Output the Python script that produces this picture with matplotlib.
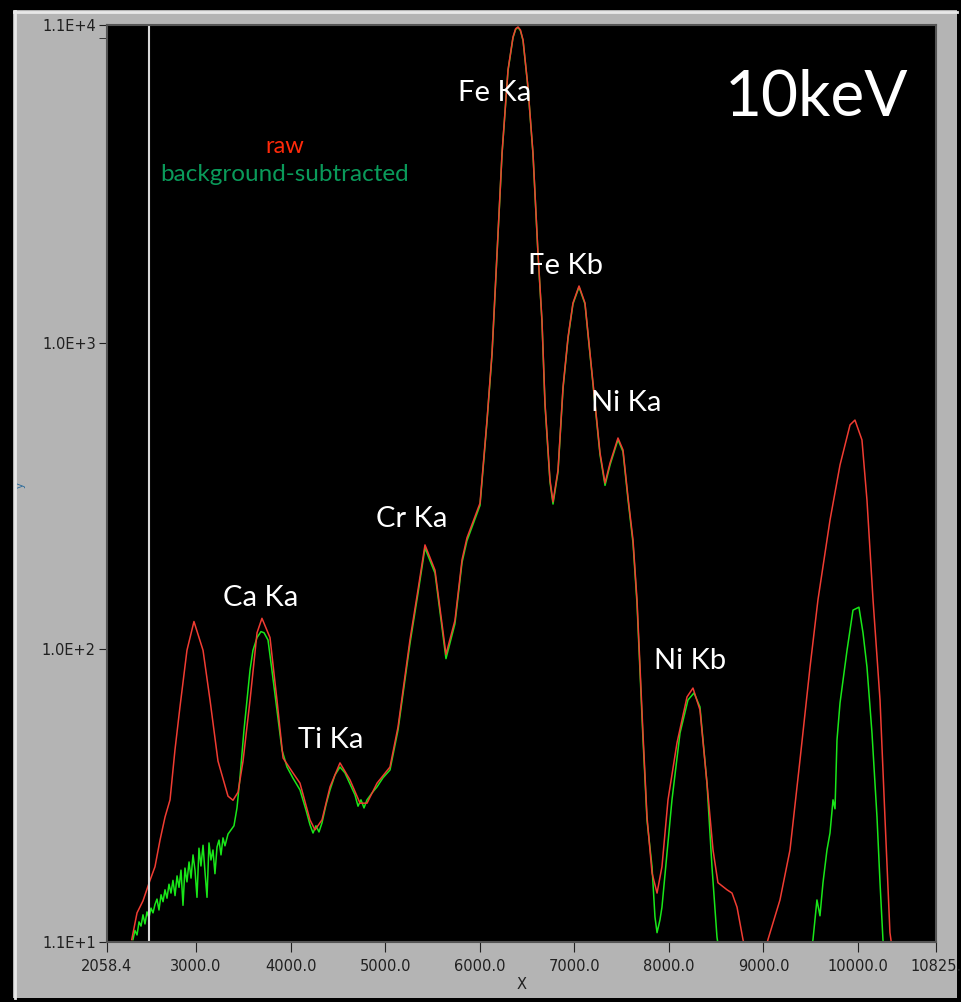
import matplotlib
matplotlib.use("Agg")
import matplotlib.pyplot as plt
from matplotlib.patches import Rectangle
from matplotlib.lines import Line2D
from matplotlib.ticker import FixedLocator, NullFormatter

# raw spectrum (channel, counts)
raw_x = [2320, 2376, 2439, 2513, 2566, 2619, 2672, 2725, 2777, 2830, 2904, 2978,
         3074, 3148, 3232, 3338, 3391, 3444, 3497, 3571, 3645, 3697, 3782, 3856,
         3920, 4025, 4099, 4205, 4258, 4332, 4417, 4522, 4628, 4734, 4808, 4914,
         5051, 5136, 5262, 5347, 5421, 5527, 5643, 5738, 5813, 5865, 6003, 6077,
         6130, 6183, 6236, 6299, 6352, 6380, 6405, 6430, 6458, 6510, 6563, 6616,
         6658, 6690, 6743, 6775, 6828, 6881, 6934, 6986, 7050, 7113, 7166, 7219,
         7272, 7325, 7378, 7462, 7515, 7568, 7621, 7663, 7695, 7726, 7769, 7822,
         7875, 7927, 7991, 8086, 8192, 8255, 8329, 8403, 8467, 8519, 8615, 8668,
         8721, 8784, 8858, 8964, 9048, 9175, 9281, 9387, 9493, 9577, 9704, 9810,
         9916, 9968, 10042, 10095, 10159, 10233, 10285, 10338, 10391]
raw_y = [11.2, 13.7, 15.0, 17.5, 19.4, 23.7, 28.2, 32.1, 46.7, 64.6, 99, 123,
         99, 68, 43, 33, 32, 34, 43, 68, 113, 126, 109, 68,
         44, 39.3, 36.4, 27.6, 25.6, 27.6, 35.4, 42.4, 37.3, 31.3, 31.3, 36.4,
         41.1, 55.6, 107, 156, 219, 181, 96, 124, 196, 231, 300, 561,
         929, 1975, 4195, 7838, 10050, 10700, 10835, 10600, 9824, 6894, 4195, 1975,
         1192, 638, 357, 303, 385, 720, 1049, 1355, 1540, 1355, 929, 638,
         438, 349, 406, 490, 448, 314, 227, 145, 87.3, 53.1, 28.2, 18.5,
         15.9, 19.4, 32.1, 49.3, 69.7, 74.5, 63.2, 36.4, 22, 17.2, 16.3, 15.9,
         14.3, 11.2, 9, 9, 11.2, 15.1, 22, 43.4, 87.3, 145, 264, 400,
         541, 561, 483, 307, 145, 68.1, 28.2, 11.8, 9]

# background-subtracted spectrum
sub_x = [2333, 2354, 2376, 2397, 2418, 2439, 2460, 2481, 2502, 2524, 2545, 2566,
         2587, 2608, 2630, 2651, 2672, 2693, 2714, 2735, 2756, 2778, 2799, 2820,
         2841, 2862, 2883, 2904, 2926, 2947, 2968, 2989, 3010, 3031, 3052, 3074,
         3095, 3116, 3137, 3158, 3179, 3200, 3222, 3243, 3264, 3285, 3306, 3338,
         3370, 3401, 3433,
         3465, 3507, 3539, 3571, 3602, 3645, 3687, 3719, 3761, 3803, 3856, 3909,
         3962, 4025, 4099, 4163, 4205, 4237, 4268, 4300, 4332, 4374, 4417, 4469,
         4522, 4575, 4628, 4681, 4713, 4744, 4776, 4808, 4861, 4914, 4977, 5051,
         5136, 5262, 5347, 5421, 5527, 5643, 5738, 5813, 5865, 6003, 6077, 6130,
         6183, 6236, 6299, 6352, 6380, 6405, 6430, 6458, 6510, 6563, 6616, 6658,
         6690, 6743, 6775, 6828, 6881, 6934, 6986, 7050, 7113, 7166, 7219, 7272,
         7325, 7378, 7462, 7515, 7568, 7621, 7663, 7695, 7726, 7769, 7822, 7853,
         7875, 7906, 7927, 7980, 8033, 8118, 8202, 8266, 8329, 8403, 8456, 8509,
         8560, 9470, 9524, 9566, 9598, 9630, 9672, 9704, 9736, 9757, 9778, 9810,
         9884, 9947, 10010, 10053, 10095, 10148, 10201, 10233, 10264, 10296]
sub_y = [11.2, 12.0, 11.6, 12.8, 12.4, 13.5, 12.6, 13.8, 13.2, 14.2, 13.7, 14.6,
         15.2, 14.0, 15.7, 14.9, 16.3, 15.3, 17.0, 15.9, 17.5, 15.6, 18.1, 16.6,
         18.9, 14.5, 19.2, 17.3, 20.1, 17.8, 21.2, 18.9, 15.4, 22.3, 19.5, 22.8,
         18.6, 15.4, 23.2, 20.4, 22.0, 18.4, 22.5, 23.7, 21.2, 24.1, 22.7, 24.8,
         25.6, 26.4, 30.2,
         38.1, 54.3, 68.1, 85.4, 99, 109, 114, 113, 107, 85, 63, 46.7,
         41.1, 37.8, 34.6, 29.7, 26.6, 25.0, 26.4, 25.2, 27.0, 30.9, 34.6, 38.7,
         41.1, 39.3, 36.2, 33.3, 30.6, 32.1, 30.2, 32.1, 33.8, 35.4, 37.9, 40.2,
         54.3, 104, 152, 214, 177, 93, 121, 192, 226, 295, 555, 920,
         1960, 4170, 7800, 10000, 10650, 10800, 10550, 9780, 6860, 4170, 1960, 1180,
         630, 352, 298, 380, 712, 1040, 1345, 1530, 1345, 920, 630, 432,
         343, 400, 484, 442, 308, 222, 141, 84, 51, 27.5, 19.4, 13.3,
         11.8, 13.0, 14.3, 21.5, 32.1, 53.1, 68.1, 71.8, 64.6, 36.4, 19.4, 11.4,
         9, 9, 11.2, 15.1, 13.4, 17.2, 22, 25, 32.1, 30, 50.4, 66.6,
         99, 134, 137, 113, 87.3, 53.1, 28.2, 17.2, 11.2, 9]

cursor_x = 2502

peak_names = ["Fe Ka", "Fe Kb", "Ni Ka", "Cr Ka", "Ca Ka", "Ti Ka", "Ni Kb"]
peak_lx = [6161, 6912, 7547, 5284, 3687, 4427, 8224]
peak_ly = [6590, 1791, 638, 266, 147, 50.4, 91.3]

x_ticks = [2058.4, 3000, 4000, 5000, 6000, 7000, 8000, 9000, 10000, 10825]
x_ticklabels = ["2058.4", "3000.0", "4000.0", "5000.0", "6000.0", "7000.0",
                "8000.0", "9000.0", "10000.0", "10825."]
y_ticks = [11, 100, 1000, 11000]
y_ticklabels = ["1.1E+1", "1.0E+2", "1.0E+3", "1.1E+4"]

W, H = 961, 1002
fig = plt.figure(figsize=(W / 100, H / 100), dpi=100)
fig.patch.set_facecolor("black")

# LabVIEW style grey panel
fig.patches.append(Rectangle((13 / W, 4 / H), 944 / W, 988 / H,
                             transform=fig.transFigure, facecolor="#b4b4b4",
                             edgecolor="none", zorder=-2))
fig.lines.append(Line2D([14 / W, 957 / W], [1 - 11.5 / H, 1 - 11.5 / H],
                        transform=fig.transFigure, color="#e8e8e8", lw=2,
                        zorder=-1))
fig.lines.append(Line2D([14.5 / W, 14.5 / W], [4 / H, 1 - 11 / H],
                        transform=fig.transFigure, color="#e8e8e8", lw=2,
                        zorder=-1))

ax = fig.add_axes([107 / W, 60 / H, 829 / W, 917 / H])
ax.set_zorder(2)
ax.set_facecolor("black")
ax.set_yscale("log")
ax.set_xlim(2058.4, 10825)
ax.set_ylim(11, 11000)

ax.plot(sub_x, sub_y, color="#19e619", lw=1.1)
ax.plot(raw_x, raw_y, color="#f03c32", lw=1.1)
ax.axvline(cursor_x, color="#d8d8d8", lw=1.5)

for s in ax.spines.values():
    s.set_color("#555555")
    s.set_linewidth(1.5)

ax.set_xticks(x_ticks)
ax.set_xticklabels(x_ticklabels)
ax.yaxis.set_major_locator(FixedLocator(y_ticks))
ax.set_yticklabels(y_ticklabels)
ax.yaxis.set_minor_locator(FixedLocator([10000]))
ax.yaxis.set_minor_formatter(NullFormatter())
ax.tick_params(axis="both", which="both", direction="out", color="#202020",
               labelcolor="#202020", labelsize=10.5)
ax.tick_params(axis="x", length=7, pad=5)
ax.tick_params(axis="y", length=6, pad=2)
ax.tick_params(axis="y", which="minor", length=6)

ax.set_xlabel("X", fontsize=10.5, color="#202020")
ax.xaxis.set_label_coords(0.5, -0.038)
fig.text(21 / W, 1 - 485 / H, "y", rotation=90, fontsize=7, color="#2a6a9a",
         ha="center", va="center")

font = "Lato"
ax.text(0.214, 0.868, "raw", transform=ax.transAxes, color="#ff2a0a",
        fontsize=17, family=font, ha="center", va="center")
ax.text(0.214, 0.837, "background-subtracted", transform=ax.transAxes,
        color="#0a9a5a", fontsize=17.5, family=font, ha="center", va="center")
for name, lx, ly in zip(peak_names, peak_lx, peak_ly):
    ax.text(lx, ly, name, color="white", fontsize=21, family=font,
            ha="center", va="center")
ax.text(0.856, 0.921, "10keV", transform=ax.transAxes, color="white",
        fontsize=46, family=font, ha="center", va="center")

fig.savefig("out.png", dpi=100, facecolor=fig.get_facecolor())
